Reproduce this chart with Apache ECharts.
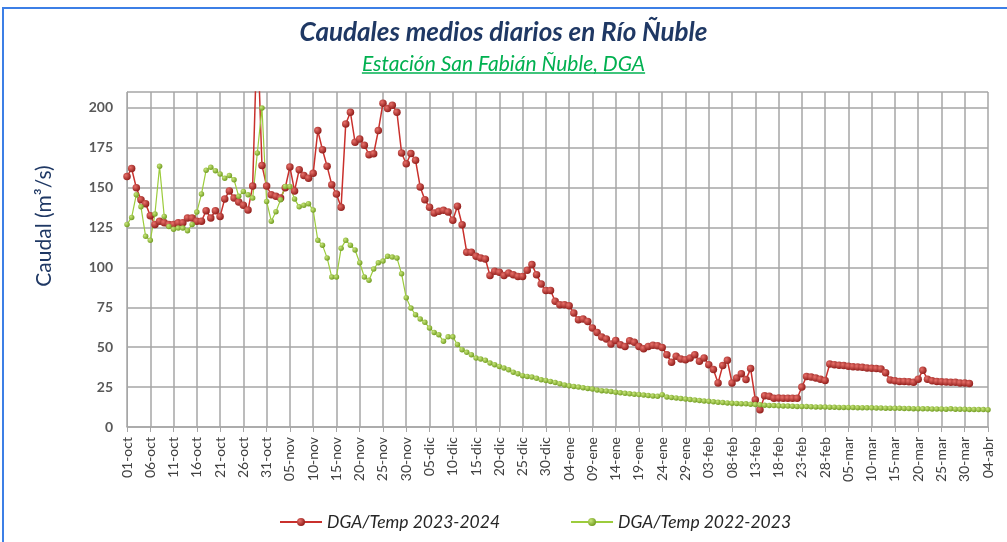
<!DOCTYPE html>
<html lang="es">
<head>
    <meta charset="UTF-8">
    <script src="https://cdn.jsdelivr.net/npm/echarts/dist/echarts.min.js"></script>
    <title>Caudales Río Ñuble</title>
    <style>
        body {margin: 0; background: #fff;}
    </style>
</head>
<body>
<div id="main" style="width: 1007px;height: 542px;"></div>
</body>
</html>
<script>
    // meses de la temporada (oct -> abr) y dias de cada uno
    var meses = ['oct', 'nov', 'dic', 'ene', 'feb', 'mar', 'abr'];
    var diasMes = [31, 30, 31, 31, 28, 31, 4];

    // DGA/Temp 2023-2024 (01-oct .. 31-mar)
    var temp2324 = [
        157, 162, 150, 142.5, 140, 132.5, 127, 129, 128, 127,
        127, 128, 128, 131, 131, 129, 129, 135.6, 131, 135.6,
        132, 143, 148, 143.5, 141, 139, 136, 151, 250, 164,
        151, 145.6, 144.6, 143.5, 150, 163, 148, 161.3, 157.7, 156,
        159, 185.8, 173.8, 163.4, 151.9, 146, 137.7, 190, 197.3, 178.5,
        180.5, 176.6, 170.7, 171.3, 185.8, 203, 199.6, 201.7, 197.3, 171.8,
        165, 171.4, 167.2, 150.5, 142.5, 137.7, 134.2, 135.2, 135.8, 134.8,
        129.6, 138.4, 126.8, 109.5, 109.5, 107, 106, 105.3, 94.9, 97.6,
        97, 94.9, 96.5, 95.5, 94.4, 94.4, 98.2, 101.8, 95.5, 89.6,
        85.6, 85.6, 78.8, 76.7, 76.7, 76, 71.4, 67.3, 67.7, 66.2,
        62, 59.3, 56.4, 55.2, 52, 54.3, 51.6, 50.5, 54.1, 53.1,
        50.5, 49.1, 50.5, 51.2, 51, 49.9, 45.3, 40.6, 44.3, 42.6,
        42.2, 43.3, 45.3, 41.2, 43.3, 39.1, 36, 27.6, 38.5, 41.8,
        27.6, 30.7, 33.4, 29.7, 36.6, 17.1, 10.8, 19.6, 19.2, 18.1,
        18.2, 18, 18, 18, 18, 25, 31.7, 31.3, 30.7, 30,
        29.2, 39.5, 39.1, 38.7, 38.5, 38.1, 37.8, 37.6, 37.4, 37,
        36.8, 36.6, 36.4, 34, 29.5, 29, 28.6, 28.6, 28.4, 28,
        30, 35.5, 30, 29, 28.6, 28.4, 28.2, 28, 28, 27.6,
        27.6, 27.2
    ];

    // DGA/Temp 2022-2023 (01-oct .. 04-abr)
    var temp2223 = [
        127, 131.4, 145.6, 138, 119.5, 117, 133.5, 163.4, 132, 125.7,
        124, 124.7, 124.7, 123, 127, 134.7, 146, 161, 162.8, 160.7,
        158.6, 156, 157.7, 155, 144.6, 147.7, 145.6, 143.5, 171.8, 200,
        141.4, 129, 135, 142.5, 150.8, 150.8, 143, 138, 139, 140,
        136, 117, 114, 106, 94, 94, 112, 117, 114, 111,
        103, 94, 92, 99, 103, 104, 107, 106.5, 106, 96,
        81, 74.6, 70.4, 67.7, 65.6, 62.1, 59.3, 57.9, 53.7, 56.5,
        56.5, 51.7, 48.5, 46.8, 45.3, 43.2, 42.6, 41.8, 40.1, 39.1,
        38, 37, 35.9, 34.3, 33.4, 32.2, 31.7, 31.3, 30.5, 29.6,
        29.2, 28.6, 27.9, 27.1, 26.4, 25.8, 25.4, 25, 24.6, 24.2,
        23.8, 23.2, 22.8, 22.5, 22.2, 21.8, 21.4, 21.1, 20.8, 20.5,
        20.3, 20, 19.7, 19.4, 19.2, 20.2, 18.8, 18.5, 18.2, 17.8,
        17.5, 17.2, 16.9, 16.6, 16.3, 16.1, 15.8, 15.5, 15.3, 15.1,
        14.9, 14.8, 14.6, 14.5, 14.3, 14.1, 13.9, 13.7, 13.5, 13.4,
        13.3, 13.2, 13.1, 13.0, 12.9, 12.8, 12.8, 12.7, 12.6, 12.6,
        12.5, 12.4, 12.4, 12.3, 12.3, 12.2, 12.2, 12.1, 12.1, 12.0,
        12.0, 11.9, 11.9, 11.8, 11.8, 11.7, 11.7, 11.6, 11.6, 11.5,
        11.5, 11.4, 11.4, 11.3, 11.3, 11.3, 11.2, 11.4, 11.2, 11.1,
        11.1, 11.0, 11.0, 10.9, 10.9, 10.8
    ];

    // etiquetas del eje y
    var yTicks = [0, 25, 50, 75, 100, 125, 150, 175, 200];

    // fechas dd-mes
    var fechas = [];
    for (var m = 0; m < meses.length; m++) {
        for (var d = 1; d <= diasMes[m]; d++) {
            fechas.push((d < 10 ? '0' + d : '' + d) + '-' + meses[m]);
        }
    }

    var subtitulo = 'Estación San Fabián Ñuble, DGA';
    var fuente = 'Lato, "Open Sans", sans-serif';
    var tamSub = 21;

    // ancho del subtitulo para el subrayado
    function anchoTexto(txt, font) {
        var ctx = document.createElement('canvas').getContext('2d');
        ctx.font = font;
        return ctx.measureText(txt).width;
    }
    var anchoSub = anchoTexto(subtitulo, 'italic ' + tamSub + 'px ' + fuente);

    function bola(c1, c2) {
        return new echarts.graphic.RadialGradient(0.35, 0.35, 0.7, [
            {offset: 0, color: c1},
            {offset: 1, color: c2}
        ]);
    }

    var myChart = echarts.init(document.getElementById('main'));
    var option = {
        backgroundColor: '#fff',
        animation: false,
        title: [{
            text: 'Caudales medios diarios en Río Ñuble',
            left: 'center',
            top: 15,
            textStyle: {
                color: '#1f3864',
                fontSize: 26,
                fontStyle: 'italic',
                fontWeight: 'bold',
                fontFamily: fuente
            }
        }, {
            text: subtitulo,
            left: 'center',
            top: 49,
            textStyle: {
                color: '#00b050',
                fontSize: tamSub,
                fontStyle: 'italic',
                fontWeight: 'normal',
                fontFamily: fuente
            }
        }],
        legend: {
            left: 274,
            top: 508,
            itemWidth: 42,
            itemHeight: 10,
            itemGap: 70,
            textStyle: {
                color: '#262626',
                fontSize: 17.5,
                fontStyle: 'italic',
                fontFamily: fuente
            },
            data: ['DGA/Temp 2023-2024', 'DGA/Temp 2022-2023']
        },
        grid: {
            left: 127,
            right: 19,
            top: 92,
            bottom: 115
        },
        xAxis: {
            type: 'category',
            data: fechas,
            boundaryGap: false,
            axisLine: {lineStyle: {color: '#a6a6a6', width: 1.5}},
            axisTick: {show: true, interval: 4, length: 5, lineStyle: {color: '#a6a6a6'}},
            axisLabel: {
                interval: 4,
                rotate: 90,
                margin: 10,
                color: '#404040',
                fontSize: 14,
                fontFamily: fuente
            },
            splitLine: {show: true, interval: 4, lineStyle: {color: '#a6a6a6', width: 1.5}}
        },
        yAxis: {
            type: 'value',
            min: yTicks[0],
            max: 210,
            interval: 25,
            axisLine: {show: true, lineStyle: {color: '#a6a6a6'}},
            axisTick: {show: false},
            axisLabel: {
                color: '#595959',
                fontSize: 14,
                fontWeight: 'bold',
                fontFamily: fuente,
                margin: 14,
                formatter: function (v) {
                    return yTicks.indexOf(v) >= 0 ? v : '';
                }
            },
            splitLine: {lineStyle: {color: '#a6a6a6', width: 1.5}}
        },
        graphic: [{
            type: 'rect',
            silent: true,
            shape: {x: 3, y: 8, width: 1100, height: 700},
            style: {fill: 'none', stroke: '#3c7fe6', lineWidth: 2}
        }, {
            type: 'text',
            silent: true,
            x: 44,
            y: 226,
            rotation: Math.PI / 2,
            style: {
                text: 'Caudal (m³/s)',
                fill: '#1f3864',
                font: '21px ' + fuente,
                textAlign: 'center',
                textVerticalAlign: 'middle'
            }
        }, {
            type: 'line',
            silent: true,
            shape: {x1: 503.5 - anchoSub / 2, y1: 73, x2: 503.5 + anchoSub / 2, y2: 73},
            style: {stroke: '#00b050', lineWidth: 1.4}
        }],
        series: [{
            name: 'DGA/Temp 2023-2024',
            type: 'line',
            data: temp2324,
            showAllSymbol: true,
            symbol: 'circle',
            symbolSize: 7.5,
            lineStyle: {color: '#c9302c', width: 1.5},
            itemStyle: {color: bola('#e8706a', '#8e1a17'), borderWidth: 0}
        }, {
            name: 'DGA/Temp 2022-2023',
            type: 'line',
            data: temp2223,
            showAllSymbol: true,
            symbol: 'circle',
            symbolSize: 5.5,
            lineStyle: {color: '#9ccc3c', width: 1.2},
            itemStyle: {color: bola('#c8e67a', '#6e9a1e'), borderWidth: 0}
        }]
    };
    myChart.setOption(option);
</script>
